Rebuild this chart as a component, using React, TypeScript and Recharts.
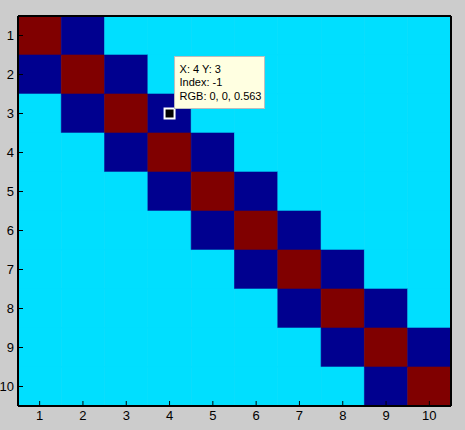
import { ScatterChart, Scatter, XAxis, YAxis, ReferenceArea } from 'recharts'

const ROWS = [1, 2, 3, 4, 5, 6, 7, 8, 9, 10]
const COLS = [1, 2, 3, 4, 5, 6, 7, 8, 9, 10]

// tridiagonal matrix: 1 on the diagonal, -1 next to it, 0 elsewhere
const MATRIX = [
	[1, -1, 0, 0, 0, 0, 0, 0, 0, 0],
	[-1, 1, -1, 0, 0, 0, 0, 0, 0, 0],
	[0, -1, 1, -1, 0, 0, 0, 0, 0, 0],
	[0, 0, -1, 1, -1, 0, 0, 0, 0, 0],
	[0, 0, 0, -1, 1, -1, 0, 0, 0, 0],
	[0, 0, 0, 0, -1, 1, -1, 0, 0, 0],
	[0, 0, 0, 0, 0, -1, 1, -1, 0, 0],
	[0, 0, 0, 0, 0, 0, -1, 1, -1, 0],
	[0, 0, 0, 0, 0, 0, 0, -1, 1, -1],
	[0, 0, 0, 0, 0, 0, 0, 0, -1, 1],
]

const PICKED = [{ x: 4, y: 3 }]
const PICKED_LINES = ['X: 4 Y: 3', 'Index: -1', 'RGB: 0, 0, 0.563']

const COLORS: Record<string, string> = {
	'1': '#800000',
	'-1': '#00008f',
	'0': '#00dfff',
}

const FONT = '"Liberation Sans", Arial, sans-serif'

// data cursor marker with its info box
const Marker = (props: any) => {
	const { cx, cy } = props
	if (cx == null || cy == null) return null
	const bx = cx + 5
	const by = cy - 57
	return (
		<g>
			<rect x={cx - 5} y={cy - 5} width={10} height={10} fill="#000" stroke="#fff" strokeWidth={2} />
			<rect x={bx} y={by} width={90} height={52} fill="#ffffe1" stroke="#bdbdbd" strokeWidth={1} />
			{PICKED_LINES.map((t, i) => (
				<text key={i} x={bx + 5} y={by + 16 + i * 13.5} fontSize={11} fontFamily={FONT} fill="#000">
					{t}
				</text>
			))}
		</g>
	)
}

export default function App() {
	const cells = ROWS.flatMap((r, ri) =>
		COLS.map((c, ci) => ({ r, c, v: MATRIX[ri][ci] }))
	)
	const axisLine = { stroke: '#000', strokeWidth: 2 }
	const tickLine = { stroke: '#000', strokeWidth: 1 }
	const tickStyle = { fill: '#000', fontSize: 13, fontFamily: FONT }

	return (
		<div style={{ position: 'fixed', left: 0, top: 0, width: 465, height: 430, background: '#cccccc' }}>
			<ScatterChart width={465} height={430} margin={{ top: 0, right: 0, bottom: 0, left: 0 }}>
				{cells.map((d) => (
					<ReferenceArea
						key={`${d.r}-${d.c}`}
						xAxisId="b"
						yAxisId="l"
						x1={d.c - 0.5}
						x2={d.c + 0.5}
						y1={d.r - 0.5}
						y2={d.r + 0.5}
						fill={COLORS[String(d.v)]}
						fillOpacity={1}
						stroke={COLORS[String(d.v)]}
						strokeWidth={0.6}
						ifOverflow="visible"
					/>
				))}
				<XAxis
					xAxisId="b"
					dataKey="x"
					type="number"
					domain={[0.5, 10.5]}
					ticks={COLS}
					height={24}
					tickSize={-5}
					tickMargin={10}
					axisLine={axisLine}
					tickLine={tickLine}
					tick={tickStyle}
					allowDataOverflow
				/>
				<XAxis
					xAxisId="t"
					orientation="top"
					type="number"
					domain={[0.5, 10.5]}
					ticks={COLS}
					height={16}
					tickSize={-5}
					axisLine={axisLine}
					tickLine={tickLine}
					tickFormatter={() => ''}
				/>
				<YAxis
					yAxisId="l"
					dataKey="y"
					type="number"
					reversed
					domain={[0.5, 10.5]}
					ticks={ROWS}
					width={18}
					tickSize={-5}
					tickMargin={9}
					axisLine={axisLine}
					tickLine={tickLine}
					tick={tickStyle}
					allowDataOverflow
				/>
				<YAxis
					yAxisId="r"
					orientation="right"
					type="number"
					reversed
					domain={[0.5, 10.5]}
					ticks={ROWS}
					width={14}
					tickSize={-5}
					axisLine={axisLine}
					tickLine={tickLine}
					tickFormatter={() => ''}
				/>
				<Scatter xAxisId="b" yAxisId="l" data={PICKED} shape={Marker} isAnimationActive={false} />
			</ScatterChart>
		</div>
	)
}
